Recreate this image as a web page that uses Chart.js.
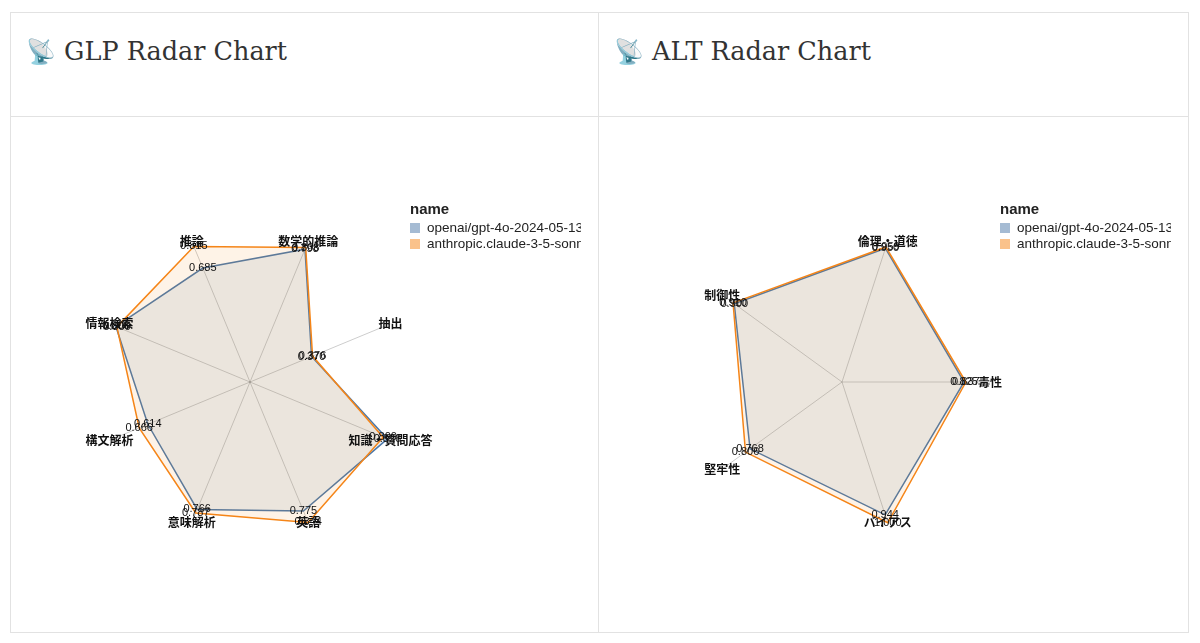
<!DOCTYPE html>
<html><head><meta charset="utf-8">
<script src="https://cdn.jsdelivr.net/npm/chart.js@4.4.1/dist/chart.umd.min.js"></script>
<style>
html,body{margin:0;padding:0;background:#fff;width:1200px;height:643px;overflow:hidden;font-family:"Liberation Sans",Arial,sans-serif;}
.card{position:absolute;top:12px;height:621px;border:1px solid #e2e2e2;box-sizing:border-box;background:#fff;overflow:hidden;}
#c1{left:10px;width:589px;}
#c2{left:598px;width:591px;}
.head{position:absolute;left:0;top:0;right:0;height:103px;border-bottom:1px solid #e2e2e2;}
.title{position:absolute;left:15px;top:23px;font-family:"DejaVu Serif",serif;font-size:25.5px;line-height:30px;color:#333;white-space:nowrap;}
.title .em{font-size:24px;}
canvas{position:absolute;left:0;top:104px;}
.legend{position:absolute;top:88px;width:171px;overflow:hidden;white-space:nowrap;color:#222;}
.legend .lt{font-weight:bold;font-size:15px;line-height:16px;margin-bottom:3px;}
.legend .it{font-size:13.5px;line-height:16px;height:16px;}
.legend .sw{display:inline-block;width:10px;height:10px;margin-right:7px;vertical-align:-1px;}
</style></head>
<body>
<div class="card" id="c1"><div class="head"><div class="title"><span class="em">📡</span> GLP Radar Chart</div></div>
<canvas id="g1" width="587" height="514"></canvas>
<div class="legend" id="l1" style="left:399px;top:188px"></div></div>
<div class="card" id="c2"><div class="head"><div class="title"><span class="em">📡</span> ALT Radar Chart</div></div>
<canvas id="g2" width="588" height="514"></canvas>
<div class="legend" id="l2" style="left:401px;top:188px"></div></div>
<script>
const seriesNames = ['openai/gpt-4o-2024-05-13', 'anthropic.claude-3-5-sonnet-20240620-v1:0'];

const glpCategories = ['情報検索', '推論', '数学的推論', '抽出', '知識・質問応答', '英語', '意味解析', '構文解析'];
const glpGpt4o  = [0.806, 0.685, 0.798, 0.370, 0.826, 0.775, 0.766, 0.614];
const glpClaude = [0.800, 0.815, 0.808, 0.376, 0.800, 0.844, 0.787, 0.666];

const altCategories = ['制御性', '倫理・道徳', '毒性', 'バイアス', '堅牢性'];
const altGpt4o  = [0.900, 0.950, 0.825, 0.944, 0.768];
const altClaude = [0.910, 0.959, 0.837, 1.000, 0.806];

const lineColors = ['#4c78a8', '#f58518'];
const fillColors = ['rgba(76,120,168,0.12)', 'rgba(245,133,24,0.10)'];
const swatchColors = ['rgba(76,120,168,0.5)', 'rgba(245,133,24,0.5)'];

const textPlugin = {
  id: 'radarText',
  afterDatasetsDraw(chart) {
    const ctx = chart.ctx, s = chart.scales.r;
    ctx.save();
    ctx.fillStyle = '#111';
    ctx.textAlign = 'center';
    ctx.textBaseline = 'middle';
    ctx.font = '11px "Liberation Sans", Arial, sans-serif';
    chart.data.datasets.forEach((ds, di) => {
      const meta = chart.getDatasetMeta(di);
      meta.data.forEach((pt, i) => ctx.fillText(ds.data[i].toFixed(3), pt.x, pt.y));
    });
    ctx.font = 'bold 12px "Noto Sans CJK JP", sans-serif';
    chart.data.labels.forEach((lab, i) => {
      const p = s.getPointPosition(i, s.drawingArea);
      ctx.fillText(lab, p.x, p.y);
    });
    ctx.restore();
  }
};

function makeRadar(id, legendId, labels, a, b, startAngle, pad) {
  const data = [a, b];
  new Chart(document.getElementById(id), {
    type: 'radar',
    data: {
      labels: labels,
      datasets: data.map((d, i) => ({
        label: seriesNames[i],
        data: d,
        borderColor: lineColors[i],
        backgroundColor: fillColors[i],
        borderWidth: 1.5,
        pointRadius: 0,
        fill: true,
        tension: 0,
        order: 1 - i
      }))
    },
    options: {
      responsive: false,
      animation: false,
      layout: { padding: pad },
      plugins: { legend: { display: false }, tooltip: { enabled: false } },
      scales: {
        r: {
          min: 0,
          max: Math.max(...a, ...b),
          startAngle: startAngle,
          grid: { display: false },
          angleLines: { display: true, color: 'rgba(0,0,0,0.2)', lineWidth: 1 },
          ticks: { display: false },
          pointLabels: { display: false }
        }
      }
    },
    plugins: [textPlugin]
  });
  const lg = document.getElementById(legendId);
  let html = '<div class="lt">name</div>';
  seriesNames.forEach((n, i) => {
    html += '<div class="it"><span class="sw" style="background:' + swatchColors[i] + '"></span>' + n + '</div>';
  });
  lg.innerHTML = html;
}

makeRadar('g1', 'l1', glpCategories, glpGpt4o, glpClaude, 292.5, { left: 87, top: 113, right: 196, bottom: 97 });
makeRadar('g2', 'l2', altCategories, altGpt4o, altClaude, 306, { left: 95, top: 117, right: 197, bottom: 101 });
</script>
</body></html>
